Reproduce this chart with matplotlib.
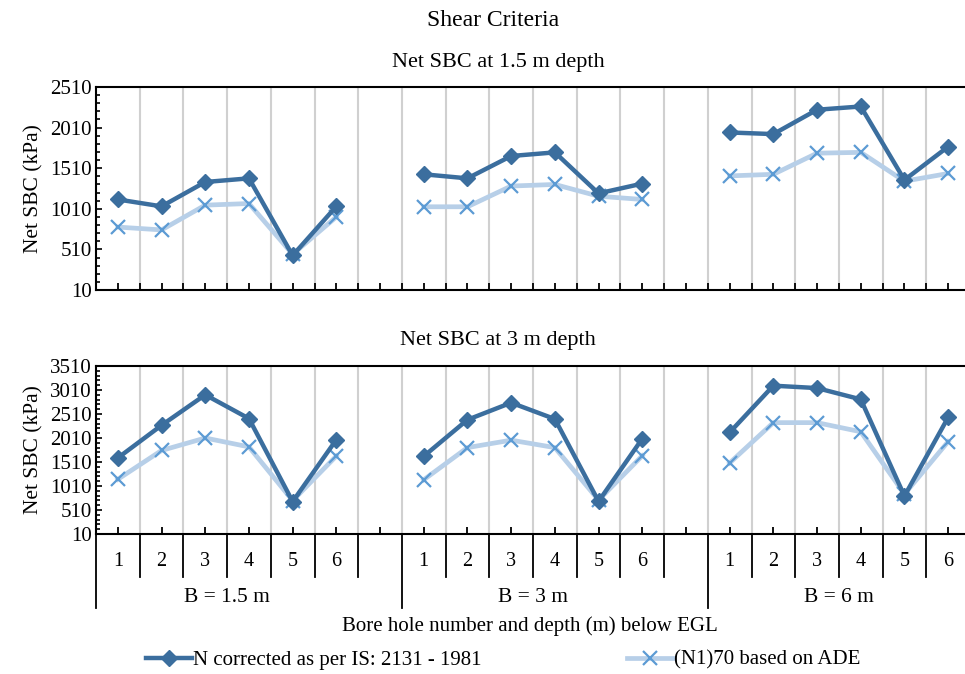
import numpy as np
import matplotlib
matplotlib.use("Agg")
import matplotlib.pyplot as plt
from matplotlib.lines import Line2D

plt.rcParams['font.family'] = ['Liberation Serif', 'DejaVu Serif']

# data
boreholes = ["1", "2", "3", "4", "5", "6"]
widths = ["B = 1.5 m", "B = 3 m", "B = 6 m"]

n_corr_15 = [1125, 1040, 1340, 1385, 435, 1040,
             1435, 1385, 1660, 1705, 1200, 1320,
             1950, 1930, 2230, 2270, 1365, 1775]
ade_15 = [785, 750, 1055, 1075, 450, 910,
          1035, 1035, 1290, 1310, 1165, 1125,
          1415, 1435, 1695, 1705, 1350, 1445]

n_corr_3 = [1595, 2275, 2910, 2415, 685, 1975,
            1630, 2390, 2745, 2405, 690, 1995,
            2125, 3100, 3050, 2815, 800, 2440]
ade_3 = [1150, 1750, 2010, 1825, 705, 1635,
         1140, 1810, 1965, 1810, 715, 1640,
         1490, 2330, 2330, 2140, 840, 1935]

dark = "#3B6E9E"
light_line = "#B7CFE8"
light_mark = "#5C9BD4"

W, H = 965, 674
fig = plt.figure(figsize=(W / 100, H / 100), dpi=100)

# 20 categories: 6 boreholes + a blank slot, three times (last blank dropped)
n_cat = 20
x_pos = np.array([g * 7 + i for g in range(3) for i in range(6)])

def make_axes(bottom_px, top_px):
    left = 96 / W
    width = 874 / W
    return fig.add_axes([left, 1 - bottom_px / H, width, (bottom_px - top_px) / H])

ax1 = make_axes(290, 87)
ax2 = make_axes(534, 366)

def draw(ax, v1, v2, ymax):
    for g in range(3):
        sl = slice(g * 6, g * 6 + 6)
        ax.plot(x_pos[sl], v2[sl], color=light_line, lw=3.4, marker="x", ms=10,
                mec=light_mark, mew=1.6, zorder=3)
        ax.plot(x_pos[sl], v1[sl], color=dark, lw=3.2, marker="D", ms=8.5,
                mec=dark, mfc=dark, zorder=4)
    ax.set_xlim(-0.5, n_cat - 0.5)
    ax.set_ylim(10, ymax)
    ax.set_yticks(np.arange(10, ymax + 1, 500))
    ax.set_yticks(np.arange(10, ymax + 1, 100), minor=True)
    ax.tick_params(axis="y", which="both", direction="in", left=True, length=4,
                   width=1.2, labelsize=15, pad=3)
    ax.tick_params(axis="y", which="minor", length=3)
    for b in np.arange(0.5, n_cat - 0.5, 1):
        ax.axvline(b, color="#d0d0d0", lw=1.5, zorder=1)
    ax.spines["right"].set_visible(False)
    for s in ["left", "top", "bottom"]:
        ax.spines[s].set_linewidth(1.5)
    ax.set_ylabel("Net SBC (kPa)", fontsize=15.5, labelpad=5)

draw(ax1, n_corr_15, ade_15, 2510)
draw(ax2, n_corr_3, ade_3, 3510)

# top chart: small inward ticks at centres and boundaries
ax1.set_xticks(np.arange(n_cat))
ax1.set_xticks(np.arange(-0.5, n_cat, 1), minor=True)
ax1.tick_params(axis="x", which="both", direction="in", length=5, width=1.3,
                labelbottom=False)

# bottom chart: inward ticks at centres, divider lines below
ax2.set_xticks(np.arange(n_cat))
ax2.tick_params(axis="x", which="major", direction="in", length=5, width=1.3,
                labelbottom=False)
ax2.set_xticks([], minor=True)

tr = ax2.get_xaxis_transform()
ah = 168
short_y = -(577 - 534) / ah
long_y = -(608 - 534) / ah
for g in range(3):
    start = g * 7 - 0.5
    ax2.add_line(Line2D([start, start], [0, long_y], transform=tr, color="black",
                        lw=1.3, clip_on=False))
    for i in range(6):
        ax2.text(g * 7 + i, -(562 - 534) / ah, boreholes[i], transform=tr,
                 ha="center", va="center", fontsize=14.5)
        b = g * 7 + i + 0.5
        if b < n_cat - 0.5:
            ax2.add_line(Line2D([b, b], [0, short_y], transform=tr, color="black",
                                lw=1.3, clip_on=False))
    ax2.text(g * 7 + 2.5, -(598 - 534) / ah, widths[g],
             transform=tr, ha="center", va="center", fontsize=15.5)

fig.text(530 / W, 1 - 626 / H, "Bore hole number and depth (m) below EGL",
         ha="center", va="center", fontsize=15)

fig.text(493 / W, 1 - 20 / H, "Shear Criteria", ha="center", va="center", fontsize=17)
fig.text(498 / W, 1 - 63 / H, "Net SBC at 1.5 m depth",
         ha="center", va="center", fontsize=16)
fig.text(498 / W, 1 - 340 / H, "Net SBC at 3 m depth",
         ha="center", va="center", fontsize=16)

handles = [
    Line2D([], [], color=dark, lw=3.2, marker="D", ms=8.5),
    Line2D([], [], color=light_line, lw=3.4, marker="x", ms=10, mec=light_mark, mew=1.6),
]
fig.legend(handles, ["N corrected as per IS: 2131 - 1981", "(N1)70 based on ADE"],
           loc="center left", bbox_to_anchor=(146 / W, 1 - 660 / H), ncol=2,
           frameon=False, fontsize=15, handlelength=2.2, handletextpad=0.05,
           columnspacing=7.0, borderpad=0, borderaxespad=0)

fig.savefig("out.png", dpi=100)
